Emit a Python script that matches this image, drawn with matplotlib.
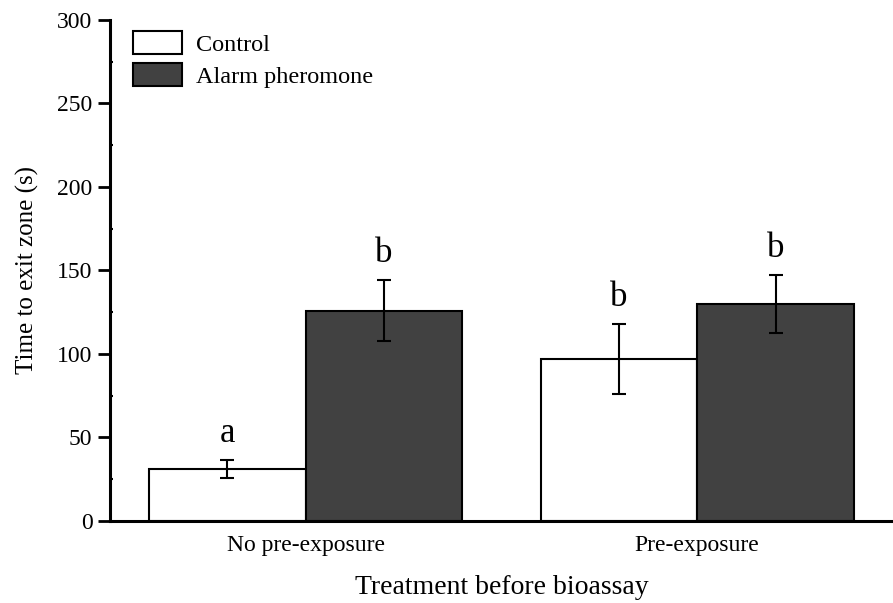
import numpy as np
import matplotlib.pyplot as plt
from matplotlib.ticker import MultipleLocator

plt.rcParams['font.family'] = ['Liberation Serif', 'DejaVu Serif']

# Dane
groups = ['No pre-exposure', 'Pre-exposure']
control = [31, 97]
control_err = [5.5, 21]
alarm = [126, 130]
alarm_err = [18, 17.5]
control_letters = ['a', 'b']
alarm_letters = ['b', 'b']

fig = plt.figure(figsize=(8.93, 6.03), dpi=100)
ax = fig.add_axes([0.123, 0.136, 0.877, 0.831])

x = np.arange(len(groups))
w = 0.4

ax.bar(x - w/2, control, w, color='white', edgecolor='black', linewidth=1.5,
       label='Control', zorder=2)
ax.bar(x + w/2, alarm, w, color='#414141', edgecolor='black', linewidth=1.5,
       label='Alarm pheromone', zorder=2)
ax.errorbar(x - w/2, control, yerr=control_err, fmt='none', ecolor='black',
            elinewidth=1.5, capsize=5, capthick=1.5, zorder=3)
ax.errorbar(x + w/2, alarm, yerr=alarm_err, fmt='none', ecolor='black',
            elinewidth=1.5, capsize=5, capthick=1.5, zorder=3)

# Litery istotnosci
for i in range(len(groups)):
    ax.text(x[i] - w/2, control[i] + control_err[i] + 6, control_letters[i],
            ha='center', va='bottom', fontsize=25)
    ax.text(x[i] + w/2, alarm[i] + alarm_err[i] + 6, alarm_letters[i],
            ha='center', va='bottom', fontsize=25)

ax.set_xlim(-0.5, 1.5)
ax.set_ylim(0, 300)
ax.set_xticks(x)
ax.set_xticklabels(groups, fontsize=17)
ax.tick_params(axis='x', length=0, pad=10)
ax.yaxis.set_major_locator(MultipleLocator(50))
ax.yaxis.set_minor_locator(MultipleLocator(25))
ax.tick_params(axis='y', which='major', direction='out', length=9, width=2,
               labelsize=17)
ax.tick_params(axis='y', which='minor', direction='in', length=2, width=1.5)

for s in ['top', 'right']:
    ax.spines[s].set_visible(False)
for s in ['left', 'bottom']:
    ax.spines[s].set_linewidth(2.2)

ax.set_xlabel('Treatment before bioassay', fontsize=20, labelpad=14)
ax.set_ylabel('Time to exit zone (s)', fontsize=18, labelpad=13)

ax.legend(loc='upper left', frameon=False, fontsize=17.5,
          bbox_to_anchor=(0.008, 1.012), handlelength=2.0, handleheight=1.1,
          labelspacing=0.3, handletextpad=0.6, borderaxespad=0.3)

plt.savefig('out.png', dpi=100)
